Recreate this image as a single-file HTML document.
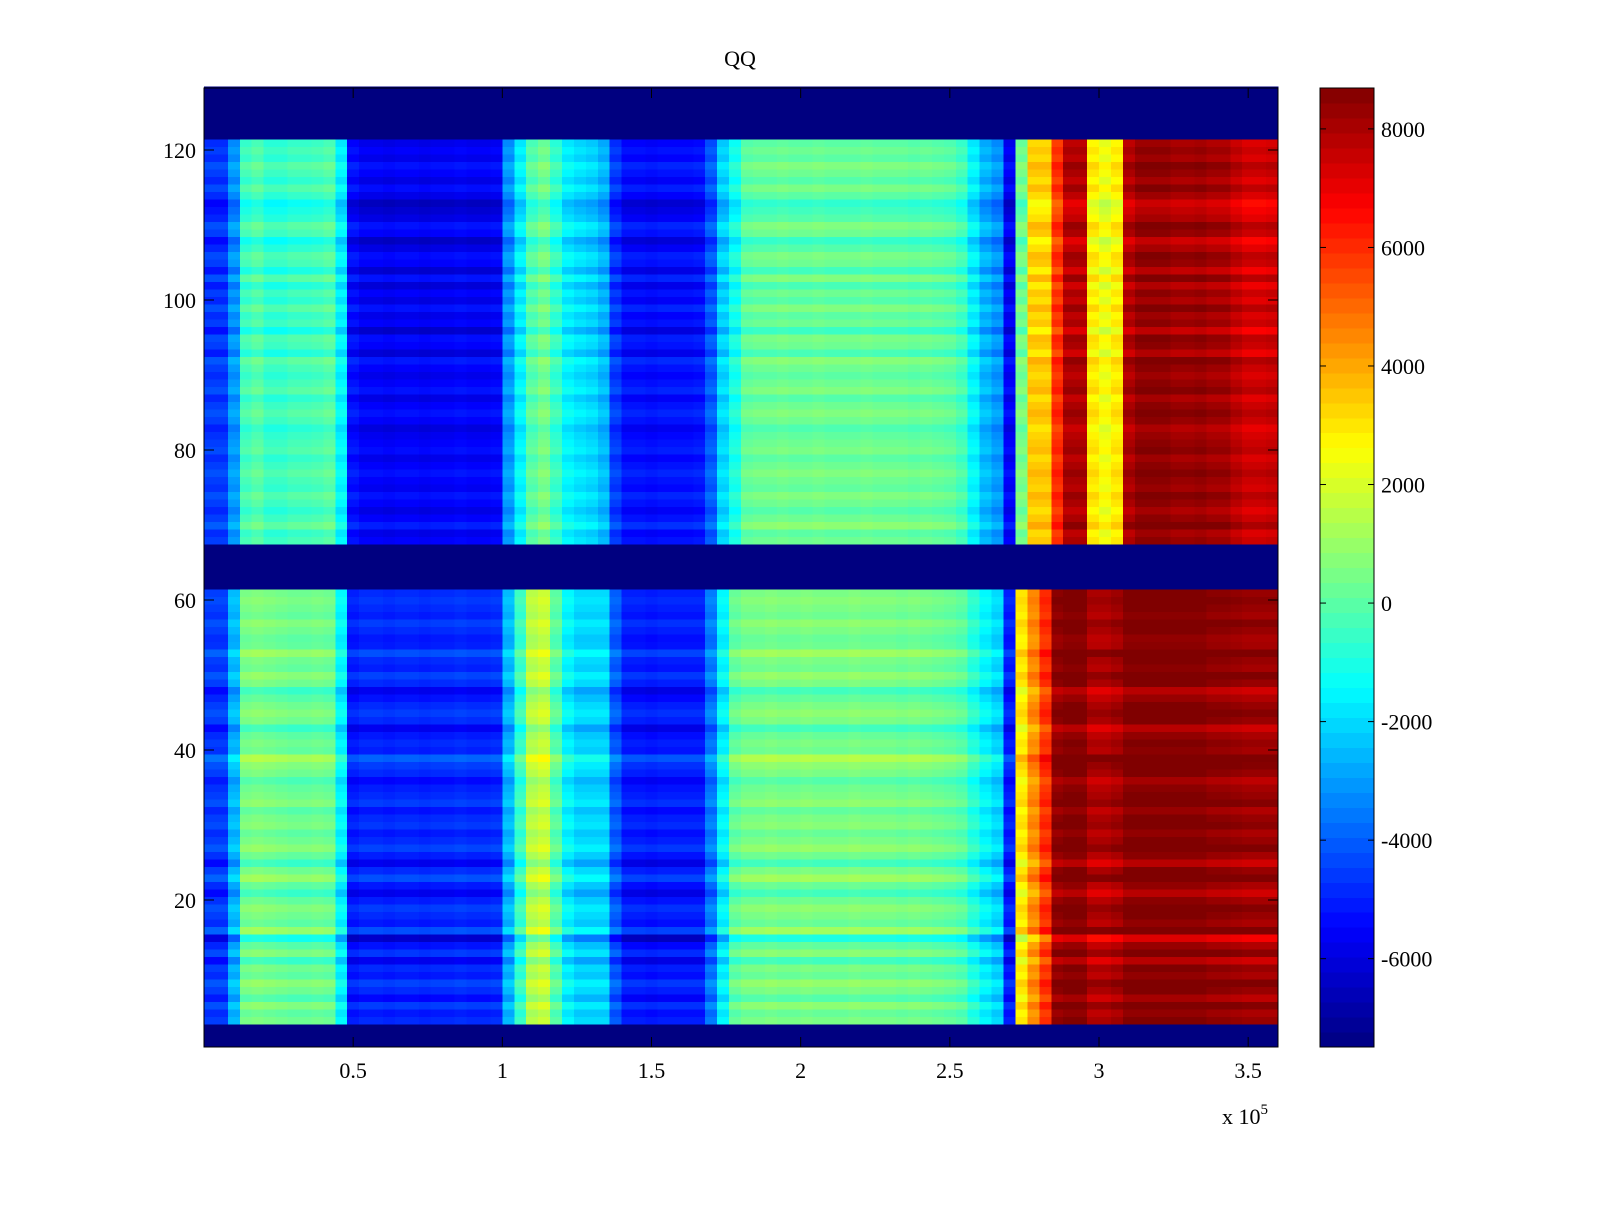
<!DOCTYPE html>
<html><head><meta charset="utf-8"><title>QQ</title>
<style>
body{margin:0;background:#fff;}
svg text{font-family:"Liberation Serif",serif;font-size:22px;fill:#000;}
</style></head>
<body>
<svg id="chart" width="1600" height="1200" xmlns="http://www.w3.org/2000/svg">
<rect width="1600" height="1200" fill="#fff"/>
<text x="740" y="66" text-anchor="middle">QQ</text>
<g id="cells"></g>
<g id="cbar"></g>
<g id="axes"></g>
</svg>
<script>
// column bins: 90 bins of 4000 units each over x in [0, 3.6e5]
const upperProfile=[-4500,-4500,-3000,-300,0,-500,-500,-300,-300,-200,0,-1500,-5200,
-5500,-5500,-5600,-5500,-5500,-5600,-5500,-5500,-5400,-5500,-5500,-5400,
-3000,-1500,0,500,-500,-1500,-1800,-2000,-2500,-4500,
-5200,-5200,-5300,-5200,-5200,-5200,-5100,-4000,-2000,-1000,
200,300,300,400,300,300,400,300,300,300,400,300,300,300,200,300,200,100,
-300,-1500,-2500,-3000,-5500,500,3500,3500,6000,8000,8000,3000,2500,3000,8000,
8500,8500,8500,8300,8300,8400,8200,8200,7800,7500,7500,7600];
const lowerProfile=[-4500,-4500,-2500,500,600,500,400,300,300,400,300,-1500,-5000,
-4800,-4800,-4900,-4800,-4800,-4900,-4800,-4800,-4700,-4800,-4800,-4700,
-2500,-500,1500,1800,0,-1500,-2000,-2000,-2000,-4000,
-5000,-5000,-5100,-5000,-5000,-5000,-5000,-3500,-1500,200,
500,500,600,500,500,600,500,500,500,600,500,500,500,400,500,400,300,200,
0,-800,-1500,-2000,-5000,3000,4500,6000,8500,8700,8700,8000,8000,8200,8700,
8700,8700,8700,8700,8700,8700,8500,8500,8400,8300,8300,8300];
// per-row offsets, rows 1..128
const rowOffset=[0,0,0,0,-300,300,-600,0,400,-300,0,-900,200,-400,-1500,600,-300,0,300,-200,
-900,-300,600,0,-900,-200,400,0,-300,200,0,-400,300,0,-200,-600,0,300,900,-200,
0,-300,-900,0,300,0,-400,-900,0,400,-200,0,600,-200,-300,0,300,-200,0,200,
0,0,0,0,0,0,0,0,-300,500,0,-400,0,300,-200,0,300,0,-300,200,
0,-200,-500,0,300,0,-400,300,0,-300,0,400,-600,0,200,-800,0,-300,300,-400,
0,-600,300,-700,0,200,-400,-900,0,300,-400,-700,-1000,-300,200,-400,0,300,-300,0,
-300,0,0,0,0,0,0,0];
const emptyRows=[[1,3],[62,67],[122,128]];
const clim=[-7490,8690];
const yTicks=[20,40,60,80,100,120];
const xTicks=[0.5,1,1.5,2,2.5,3,3.5];
const cTicks=[-6000,-4000,-2000,0,2000,4000,6000,8000];

const NS="http://www.w3.org/2000/svg";
const X0=204,X1=1278,Y0=88,Y1=1047;
const xs=v=>X0+v/3.6*(X1-X0);          // v in units of 1e5
const ys=r=>1050-7.5*r;                // row value
const cs=v=>Y1-(v-clim[0])/(clim[1]-clim[0])*(Y1-Y0);
function jet(t){t=Math.max(0,Math.min(1,t));
 const f=x=>Math.max(0,Math.min(1,x));
 const r=f(1.5-Math.abs(4*t-3)),g=f(1.5-Math.abs(4*t-2)),b=f(1.5-Math.abs(4*t-1));
 return `rgb(${Math.round(r*255)},${Math.round(g*255)},${Math.round(b*255)})`;}
function mk(tag,attrs,parent){const e=document.createElementNS(NS,tag);for(const k in attrs)e.setAttribute(k,attrs[k]);parent.appendChild(e);return e;}
const cells=document.getElementById('cells');
const nb=upperProfile.length,bw=3.6/nb;
for(let r=1;r<=128;r++){
 const empty=emptyRows.some(([a,b])=>r>=a&&r<=b);
 const prof=r>=68?upperProfile:lowerProfile;
 for(let c=0;c<nb;c++){
  let v=empty?clim[0]:prof[c]+rowOffset[r-1];
  const t=(v-clim[0])/(clim[1]-clim[0]);
  const x=xs(c*bw),x2=xs((c+1)*bw);
  const el=mk('rect',{x:x.toFixed(2),y:(ys(r+0.5)).toFixed(2),width:(x2-x+0.6).toFixed(2),height:8,fill:jet(t),'shape-rendering':'crispEdges'},cells);
  
  
 }
}
const axes=document.getElementById('axes');
mk('rect',{x:X0,y:Y0,width:X1-X0,height:Y1-Y0,fill:'none',stroke:'#000','stroke-width':1},axes);
yTicks.forEach(v=>{const y=ys(v);
 mk('line',{x1:X0,x2:X0+10,y1:y,y2:y,stroke:'#000'},axes);mk('line',{x1:X1,x2:X1-10,y1:y,y2:y,stroke:'#000'},axes);
 const t=mk('text',{x:196,y:y+8,'text-anchor':'end'},axes);t.textContent=v;
 
 });
xTicks.forEach(v=>{const x=xs(v);
 mk('line',{x1:x,x2:x,y1:Y1,y2:Y1-10,stroke:'#000'},axes);mk('line',{x1:x,x2:x,y1:Y0,y2:Y0+10,stroke:'#000'},axes);
 const t=mk('text',{x:x,y:1078,'text-anchor':'middle'},axes);t.textContent=v;
 
 });
const ex=mk('text',{x:1222,y:1124},axes);ex.innerHTML='x 10<tspan dy="-10" font-size="15">5</tspan>';


// colorbar
const cb=document.getElementById('cbar');
const CX0=1320,CX1=1374,N=64;
for(let i=0;i<N;i++){const y0=Y1-(i+1)*(Y1-Y0)/N;
 mk('rect',{x:CX0,y:y0.toFixed(2),width:CX1-CX0,height:((Y1-Y0)/N+0.6).toFixed(2),fill:jet((i+0.5)/N),'shape-rendering':'crispEdges'},cb);}
mk('rect',{x:CX0,y:Y0,width:CX1-CX0,height:Y1-Y0,fill:'none',stroke:'#000'},cb);
cTicks.forEach(v=>{const y=cs(v);
 mk('line',{x1:CX0,x2:CX0+6,y1:y,y2:y,stroke:'#000'},cb);mk('line',{x1:CX1,x2:CX1-6,y1:y,y2:y,stroke:'#000'},cb);
 const t=mk('text',{x:1381,y:y+8},cb);t.textContent=v;
 
 });
</script>
</body></html>
